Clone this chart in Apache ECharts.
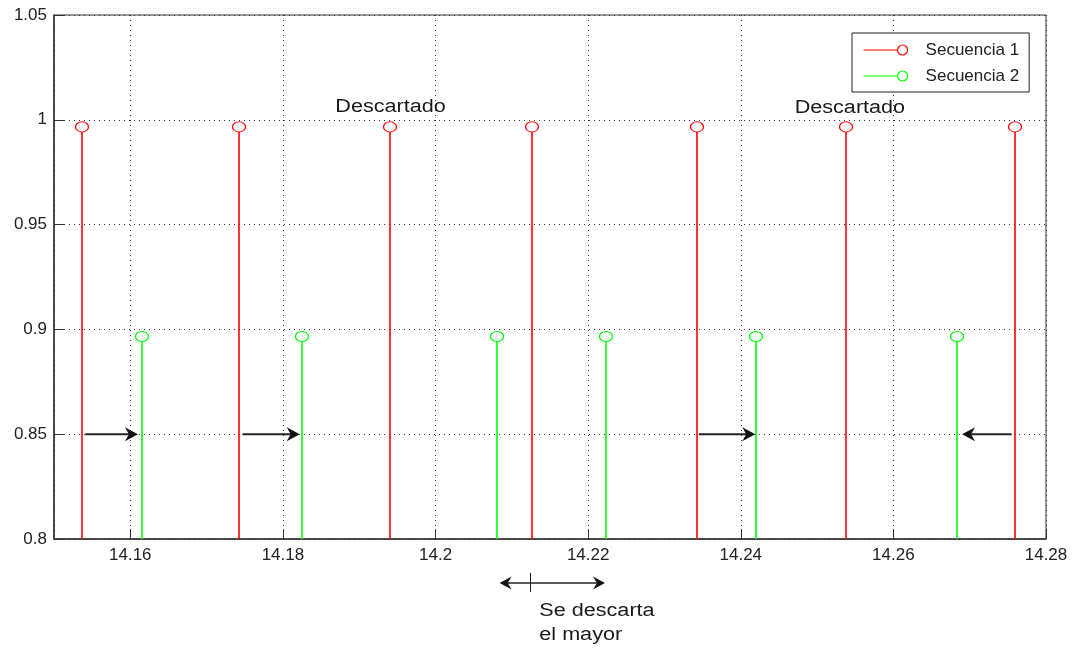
<!DOCTYPE html>
<html>
<head>
<meta charset="utf-8">
<script src="https://cdn.jsdelivr.net/npm/echarts@6/dist/echarts.min.js"></script>
<style>
html,body{margin:0;padding:0;background:#fff;}
#chart{width:1073px;height:649px;}
</style>
</head>
<body>
<div id="chart"></div>
<script>
// ---- data ----
var seq1X = [14.1537, 14.1743, 14.1940, 14.2126, 14.2342, 14.2538, 14.2759];
var seq1Y = [0.9966, 0.9966, 0.9966, 0.9966, 0.9966, 0.9966, 0.9966];
var seq2X = [14.1615, 14.1825, 14.2081, 14.2224, 14.2420, 14.2683];
var seq2Y = [0.8966, 0.8966, 0.8966, 0.8966, 0.8966, 0.8966];
var seriesNames = ['Secuencia 1', 'Secuencia 2'];
var xRange = [14.15, 14.28];
var yRange = [0.8, 1.05];
var yStep = 0.05;
// annotation arrows (data coords): [x0, y0, x1, y1]
var arrows = [
  [14.1541, 0.85, 14.1610, 0.85],
  [14.1747, 0.85, 14.1822, 0.85],
  [14.2345, 0.85, 14.2419, 0.85],
  [14.2755, 0.85, 14.2690, 0.85]
];
var spanArrow = [14.2084, 14.2222, 0.779]; // x0, x1, y
var spanTickX = 14.2124;
var labelsDescartado = [[14.1941, 1.0062], [14.2543, 1.0057]];
var labelSpan = [14.2136, 0.7599];

var RED = '#ff0000', GREEN = '#00ff00';

function toPairs(xs, ys){ return xs.map(function(x,i){ return [x, ys[i]]; }); }

function stemRender(color){
  return function(params, api){
    var x = api.value(0), y = api.value(1);
    var top = api.coord([x, y]);
    var base = api.coord([x, yRange[0]]);
    var px = Math.round(top[0]);
    var ry = 5;
    return {
      type: 'group',
      children: [
        {type:'line', shape:{x1:px, y1:base[1], x2:px, y2:top[1]+ry},
         style:{stroke:color, lineWidth:1.6}},
        {type:'circle', x:px, y:top[1], scaleY:0.78, shape:{cx:0, cy:0, r:6.5},
         style:{fill:'none', stroke:color, lineWidth:1.3}}
      ]
    };
  };
}

var chart = echarts.init(document.getElementById('chart'));
var fontFam = '"Liberation Sans", Arial, sans-serif';
chart.setOption({
  animation: false,
  backgroundColor: '#fff',
  grid: {left:54, top:15, right:27, bottom:110, show:true, borderColor:'#333', borderWidth:1, backgroundColor:'transparent'},
  xAxis: {
    type:'value', min:xRange[0], max:xRange[1], splitNumber:6,
    axisLine:{show:true, lineStyle:{color:'#333', width:1.5}},
    axisTick:{show:true, inside:true, length:10, lineStyle:{color:'#333'}},
    axisLabel:{showMinLabel:false, color:'#222', fontSize:17, fontFamily:fontFam, margin:8},
    splitLine:{show:true, lineStyle:{color:'#333', type:[1,4], width:1}}
  },
  yAxis: {
    type:'value', min:yRange[0], max:yRange[1], interval:yStep,
    axisLine:{show:true, lineStyle:{color:'#333', width:1.5}},
    axisTick:{show:true, inside:true, length:10, lineStyle:{color:'#333'}},
    axisLabel:{color:'#222', fontSize:17, fontFamily:fontFam, margin:7},
    splitLine:{show:true, lineStyle:{color:'#333', type:[1,4], width:1}}
  },
  legend: {
    orient:'vertical', left:852, top:33,
    padding:[8,10,7,11], itemGap:8,
    backgroundColor:'#fff', borderColor:'#222', borderWidth:1, borderRadius:0,
    itemWidth:44, itemHeight:10,
    textStyle:{color:'#222', fontSize:17, fontFamily:fontFam, lineHeight:18, padding:[0,0,0,13]},
    data:[
      {name:seriesNames[0], icon:'path://M0,5L34,5M44,5A5,5,0,1,1,34,5A5,5,0,1,1,44,5',
       itemStyle:{color:'rgba(0,0,0,0)', borderColor:RED, borderWidth:1.2}},
      {name:seriesNames[1], icon:'path://M0,5L34,5M44,5A5,5,0,1,1,34,5A5,5,0,1,1,44,5',
       itemStyle:{color:'rgba(0,0,0,0)', borderColor:GREEN, borderWidth:1.2}}
    ]
  },
  series: [
    {name:seriesNames[0], type:'custom', clip:true, renderItem:stemRender(RED),
     itemStyle:{color:RED}, data:toPairs(seq1X, seq1Y), encode:{x:0, y:1}},
    {name:seriesNames[1], type:'custom', clip:true, renderItem:stemRender(GREEN),
     itemStyle:{color:GREEN}, data:toPairs(seq2X, seq2Y), encode:{x:0, y:1}}
  ]
});

function px(p){ return chart.convertToPixel({gridIndex:0}, p); }

function arrowHead(tip, dir, len, half, notch, color){
  var ux = dir[0], uy = dir[1];
  var nx = -uy, ny = ux;
  var bx = tip[0] - ux*len, by = tip[1] - uy*len;
  var mx = tip[0] - ux*(len-notch), my = tip[1] - uy*(len-notch);
  return {type:'polygon', silent:true, z:100,
    shape:{points:[[tip[0],tip[1]],[bx+nx*half, by+ny*half],[mx,my],[bx-nx*half, by-ny*half]]},
    style:{fill:color}};
}

var g = [];
arrows.forEach(function(a){
  var p0 = px([a[0], a[1]]), p1 = px([a[2], a[3]]);
  var dx = p1[0]-p0[0], dy = p1[1]-p0[1], L = Math.sqrt(dx*dx+dy*dy);
  var u = [dx/L, dy/L];
  g.push({type:'line', silent:true, z:100,
    shape:{x1:p0[0], y1:p0[1], x2:p1[0]-u[0]*8, y2:p1[1]-u[1]*8},
    style:{stroke:'#222', lineWidth:2}});
  g.push(arrowHead(p1, u, 13, 7, 4, '#111'));
});
(function(){
  var a = px([spanArrow[0], spanArrow[2]]), b = px([spanArrow[1], spanArrow[2]]);
  g.push({type:'line', silent:true, z:100, shape:{x1:a[0]+6, y1:a[1], x2:b[0]-6, y2:b[1]},
    style:{stroke:'#222', lineWidth:1.3}});
  g.push(arrowHead(b, [1,0], 12, 6.5, 4, '#111'));
  g.push(arrowHead(a, [-1,0], 12, 6.5, 4, '#111'));
  var t = px([spanTickX, spanArrow[2]]);
  var tx = Math.round(t[0]) + 0.5;
  g.push({type:'line', silent:true, z:100, shape:{x1:tx, y1:t[1]-10, x2:tx, y2:t[1]+9},
    style:{stroke:'#222', lineWidth:1}});
})();
labelsDescartado.forEach(function(l){
  var p = px(l);
  g.push({type:'text', silent:true, z:100, x:p[0], y:p[1], scaleX:1.2,
    style:{text:'Descartado', fill:'#1a1a1a', fontSize:18, fontFamily:fontFam, align:'center', verticalAlign:'middle'}});
});
(function(){
  var p = px(labelSpan);
  g.push({type:'text', silent:true, z:100, x:p[0], y:p[1], scaleX:1.2,
    style:{text:'Se descarta\nel mayor', fill:'#1a1a1a', fontSize:18, lineHeight:24, fontFamily:fontFam, align:'left', verticalAlign:'middle'}});
})();
chart.setOption({graphic: g});
</script>
</body>
</html>
